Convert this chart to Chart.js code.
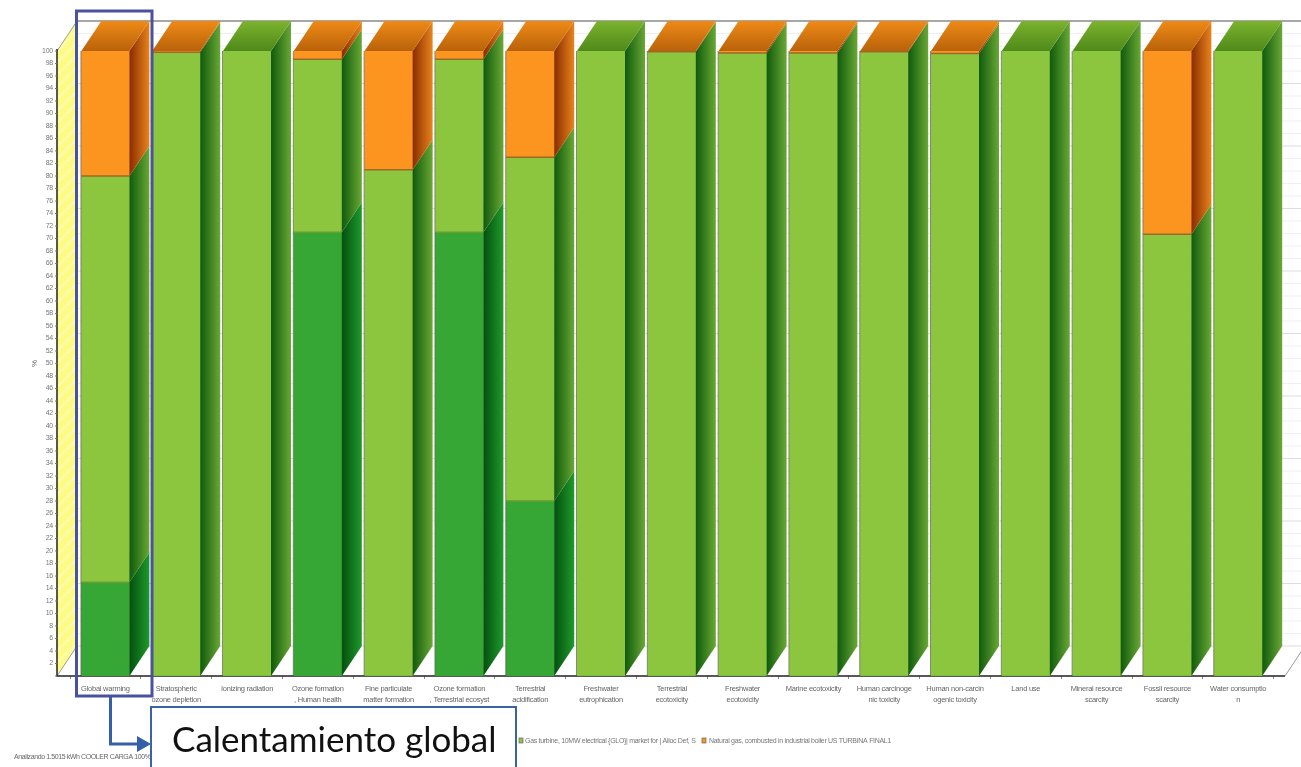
<!DOCTYPE html>
<html>
<head>
<meta charset="utf-8">
<title>Analizando COOLER CARGA 100%</title>
<style>
  html, body { margin: 0; padding: 0; background: #fff; overflow: hidden; }
  canvas { display: block; }
</style>
<script src="https://cdn.jsdelivr.net/npm/chart.js"></script>
</head>
<body>
<canvas id="chart" width="1301" height="767"></canvas>
<script>
// impact categories, wrapped the way the axis shows them
const categories = [
  ['Global warming'],
  ['Stratospheric', 'ozone depletion'],
  ['Ionizing radiation'],
  ['Ozone formation', ', Human health'],
  ['Fine particulate', 'matter formation'],
  ['Ozone formation', ', Terrestrial ecosyst'],
  ['Terrestrial', 'acidification'],
  ['Freshwater', 'eutrophication'],
  ['Terrestrial', 'ecotoxicity'],
  ['Freshwater', 'ecotoxicity'],
  ['Marine ecotoxicity'],
  ['Human carcinoge', 'nic toxicity'],
  ['Human non-carcin', 'ogenic toxicity'],
  ['Land use'],
  ['Mineral resource', 'scarcity'],
  ['Fossil resource', 'scarcity'],
  ['Water consumptio', 'n']
];

// percent share per process, bottom of the stack first
const darkGreenValues  = [15, 0, 0, 71, 0, 71, 28, 0, 0, 0, 0, 0, 0, 0, 0, 0, 0];
const lightGreenValues = [65, 99.8, 100, 27.7, 81, 27.7, 55, 100, 99.9, 99.7, 99.7, 99.9, 99.6, 100, 100, 70.7, 100];
const orangeValues     = [20, 0.2, 0, 1.3, 19, 1.3, 17, 0, 0.1, 0.3, 0.3, 0.1, 0.4, 0, 0, 29.3, 0];

const legendNames = [
  'Gas turbine, 10MW electrical {GLO}| market for | Alloc Def, S',
  'Natural gas, combusted in industrial boiler US TURBINA FINAL1'
];
const footerText = 'Analizando 1.5015 kWh COOLER CARGA 100%';
const calloutText = 'Calentamiento global';

// front colour plus the ramp used on the side and top faces
const shades = [
  { front: '#36a635', sideA: '#03500f', sideB: '#1f9a2b', topA: '#2a7a20', topB: '#36a635' },
  { front: '#8cc63f', sideA: '#0f5a0c', sideB: '#6aa835', topA: '#4f8a1a', topB: '#7cb22e' },
  { front: '#fb951f', sideA: '#8a2c00', sideB: '#e8841c', topA: '#b8620a', topB: '#ef8a16' }
];

const DEPTH_X = 20;
const DEPTH_Y = 30;
const WALL_X = 57;
const FLOOR_RIGHT = 1285;
const SMALL_FONT = '"Liberation Sans", sans-serif';

function hatch(ctx) {
  const tile = document.createElement('canvas');
  tile.width = 12; tile.height = 12;
  const t = tile.getContext('2d');
  t.fillStyle = '#fdfb84';
  t.fillRect(0, 0, 12, 12);
  t.strokeStyle = '#fefca6';
  t.lineWidth = 3;
  t.beginPath();
  t.moveTo(-2, 14); t.lineTo(14, -2);
  t.moveTo(-6, 6); t.lineTo(6, -6);
  t.moveTo(6, 18); t.lineTo(18, 6);
  t.stroke();
  return ctx.createPattern(tile, 'repeat');
}

function poly(ctx, pts, fill) {
  ctx.fillStyle = fill;
  ctx.beginPath();
  pts.forEach((p, i) => i ? ctx.lineTo(p[0], p[1]) : ctx.moveTo(p[0], p[1]));
  ctx.closePath();
  ctx.fill();
}

// back wall, left wall and floor edges behind the columns
const roomPlugin = {
  id: 'room',
  // tick labels are squeezed a little, no narrow face is available
  beforeDraw(chart) {
    chart.ctx.letterSpacing = '-0.25px';
  },
  beforeDatasetsDraw(chart) {
    const { ctx, scales: { y } } = chart;
    const top = y.getPixelForValue(100), bottom = y.getPixelForValue(0);
    ctx.save();

    y.ticks.forEach(t => {
      const py = y.getPixelForValue(t.value) - DEPTH_Y;
      ctx.strokeStyle = t.value === 100 ? '#8a8a8a' : (t.value % 10 === 0 ? '#dcdcdc' : '#efefef');
      ctx.lineWidth = t.value === 100 ? 1.5 : 1;
      ctx.beginPath();
      ctx.moveTo(WALL_X + DEPTH_X, py);
      ctx.lineTo(1301, py);
      ctx.stroke();
    });

    poly(ctx, [[WALL_X, bottom], [WALL_X + DEPTH_X, bottom - DEPTH_Y], [WALL_X + DEPTH_X, top - DEPTH_Y], [WALL_X, top]], hatch(ctx));

    ctx.strokeStyle = '#9a9a9a';
    ctx.lineWidth = 1;
    ctx.beginPath();
    ctx.moveTo(WALL_X, top); ctx.lineTo(WALL_X + DEPTH_X, top - DEPTH_Y);
    ctx.moveTo(WALL_X, bottom); ctx.lineTo(WALL_X + DEPTH_X, bottom - DEPTH_Y);
    ctx.moveTo(FLOOR_RIGHT, bottom); ctx.lineTo(FLOOR_RIGHT + DEPTH_X, bottom - DEPTH_Y);
    ctx.stroke();

    ctx.strokeStyle = '#222';
    ctx.lineWidth = 1.5;
    ctx.beginPath();
    ctx.moveTo(WALL_X, top - 2); ctx.lineTo(WALL_X, bottom);
    ctx.lineTo(FLOOR_RIGHT, bottom);
    ctx.stroke();

    ctx.strokeStyle = '#777';
    ctx.lineWidth = 1;
    ctx.beginPath();
    y.ticks.forEach(t => {
      const py = y.getPixelForValue(t.value);
      ctx.moveTo(WALL_X - 2, py); ctx.lineTo(WALL_X, py);
    });
    ctx.stroke();
    ctx.restore();
  },

  // side and top faces come from the bar elements the library laid out
  afterDatasetsDraw(chart) {
    const { ctx } = chart;
    ctx.save();
    categories.forEach((_, col) => {
      let topSeries = -1;
      chart.data.datasets.forEach((ds, s) => {
        if (!ds.data[col]) return;
        topSeries = s;
        const bar = chart.getDatasetMeta(s).data[col];
        const r = bar.x + bar.width / 2;
        const l = bar.x - bar.width / 2;
        const g = ctx.createLinearGradient(r, 0, r + DEPTH_X, 0);
        g.addColorStop(0, shades[s].sideA);
        g.addColorStop(1, shades[s].sideB);
        poly(ctx, [[r, bar.base], [r + DEPTH_X, bar.base - DEPTH_Y], [r + DEPTH_X, bar.y - DEPTH_Y], [r, bar.y]], g);
        // thin seam on top of each segment
        if (s < 2 && chart.data.datasets[s + 1].data[col]) {
          ctx.strokeStyle = s === 1 ? '#a0662a' : '#6f9a36';
          ctx.lineWidth = 1.5;
          ctx.beginPath();
          ctx.moveTo(l, bar.y); ctx.lineTo(r, bar.y);
          ctx.stroke();
        }
      });
      const bar = chart.getDatasetMeta(topSeries).data[col];
      const r = bar.x + bar.width / 2;
      const l = bar.x - bar.width / 2;
      const g = ctx.createLinearGradient(0, bar.y, 0, bar.y - DEPTH_Y);
      g.addColorStop(0, shades[topSeries].topA);
      g.addColorStop(1, shades[topSeries].topB);
      poly(ctx, [[l, bar.y], [r, bar.y], [r + DEPTH_X, bar.y - DEPTH_Y], [l + DEPTH_X, bar.y - DEPTH_Y]], g);

      ctx.strokeStyle = 'rgba(60,60,60,0.55)';
      ctx.lineWidth = 1;
      ctx.beginPath();
      ctx.moveTo(l - 0.5, bar.y); ctx.lineTo(l - 0.5, chart.scales.y.getPixelForValue(0));
      ctx.stroke();
    });
    ctx.restore();
  }
};

// highlight frame, connector, callout box, legend and footer line
const notesPlugin = {
  id: 'notes',
  afterDraw(chart) {
    const { ctx } = chart;
    ctx.save();

    ctx.strokeStyle = '#4a519f';
    ctx.lineWidth = 3;
    ctx.strokeRect(76.5, 11, 75.5, 685);

    ctx.textBaseline = 'middle';
    ctx.textAlign = 'left';
    ctx.letterSpacing = '-0.4px';
    ctx.fillStyle = '#666';
    ctx.font = '7px ' + SMALL_FONT;
    ctx.fillText(footerText, 14, 757);

    ctx.letterSpacing = '-0.3px';
    ctx.fillStyle = '#777';
    ctx.fillText(legendNames[0], 525, 741);
    ctx.fillText(legendNames[1], 709, 741);
    [[shades[1].front, 519], [shades[2].front, 702]].forEach(([c, x]) => {
      ctx.fillStyle = c;
      ctx.fillRect(x, 738, 4, 5);
      ctx.strokeStyle = '#666';
      ctx.lineWidth = 0.7;
      ctx.strokeRect(x, 738, 4, 5);
    });

    ctx.strokeStyle = '#3560a8';
    ctx.lineWidth = 3;
    ctx.beginPath();
    ctx.moveTo(110.5, 697); ctx.lineTo(110.5, 744); ctx.lineTo(138, 744);
    ctx.stroke();
    poly(ctx, [[137, 736], [151, 744], [137, 752]], '#3560a8');

    ctx.fillStyle = '#fff';
    ctx.fillRect(151, 707, 365, 62);
    ctx.strokeStyle = '#3a63a6';
    ctx.lineWidth = 2;
    ctx.strokeRect(151, 707, 365, 62);

    ctx.letterSpacing = '0px';
    ctx.fillStyle = '#111';
    ctx.font = '35px Lato, sans-serif';
    ctx.fillText(calloutText, 172, 741);
    ctx.restore();
  }
};

new Chart(document.getElementById('chart').getContext('2d'), {
  type: 'bar',
  data: {
    labels: categories,
    datasets: [
      { label: 'Dark green', data: darkGreenValues, backgroundColor: shades[0].front },
      { label: 'Light green', data: lightGreenValues, backgroundColor: shades[1].front },
      { label: 'Orange', data: orangeValues, backgroundColor: shades[2].front }
    ]
  },
  options: {
    responsive: false,
    animation: false,
    barThickness: 48,
    layout: { padding: { left: 30, right: 27.4, top: 51, bottom: 0 } },
    plugins: { legend: { display: false }, tooltip: { enabled: false } },
    scales: {
      x: {
        stacked: true,
        afterFit(s) { s.height = 91; },
        border: { display: false },
        grid: { drawOnChartArea: false, tickLength: 3, color: '#888' },
        ticks: {
          autoSkip: false, maxRotation: 0, minRotation: 0, padding: 4,
          color: '#666',
          font: { family: SMALL_FONT, size: 7.5, lineHeight: 1.5 }
        }
      },
      y: {
        stacked: true,
        min: 0, max: 100,
        afterFit(s) { s.width = 40; },
        border: { display: false },
        grid: { display: false },
        title: { display: true, text: '%', color: '#666', padding: 0, font: { size: 8 } },
        ticks: {
          stepSize: 2, autoSkip: false, padding: 9,
          color: '#777',
          font: { family: SMALL_FONT, size: 7 },
          callback: v => v === 0 ? '' : v
        }
      }
    }
  },
  plugins: [roomPlugin, notesPlugin]
});
</script>
</body>
</html>
